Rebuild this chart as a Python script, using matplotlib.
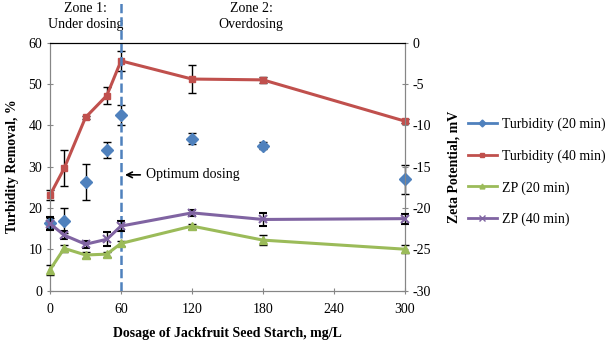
import matplotlib.pyplot as plt
from matplotlib.lines import Line2D

plt.rcParams['font.family'] = ['Liberation Serif', 'DejaVu Serif']
plt.rcParams['axes.unicode_minus'] = False

dose = [0, 12, 30, 48, 60, 120, 180, 300]

turb20 = [16.3, 16.9, 26.3, 34.1, 42.5, 36.8, 35.1, 26.9]
turb20_err = [1.2, 3.0, 4.3, 1.9, 2.4, 1.3, 0.8, 3.5]
turb40 = [23.1, 29.6, 41.9, 47.2, 55.6, 51.2, 51.0, 41.0]
turb40_err = [1.3, 4.3, 0.4, 2.1, 2.5, 3.3, 0.8, 0.5]

zp20 = [-27.5, -24.9, -25.7, -25.6, -24.3, -22.2, -23.9, -25.0]
zp20_err = [0.6, 0.4, 0.4, 0.3, 0.3, 0.3, 0.65, 0.5]
zp40 = [-21.9, -23.3, -24.4, -23.8, -22.2, -20.6, -21.4, -21.3]
zp40_err = [0.8, 0.5, 0.4, 0.85, 0.6, 0.4, 0.8, 0.6]

c_blue = '#4F81BD'
c_red = '#C0504D'
c_green = '#9BBB59'
c_purple = '#8064A2'
grey = '#868686'

fig = plt.figure(figsize=(6.1, 3.4), dpi=100)
ax = fig.add_axes([50 / 610, 1 - 290.5 / 340, 355 / 610, 247.8 / 340])
ax2 = ax.twinx()

ax.errorbar(dose, turb20, yerr=turb20_err, fmt='D', color=c_blue, ms=6,
            ecolor='black', elinewidth=1, capsize=3, clip_on=False, zorder=3)
ax.errorbar(dose, turb40, yerr=turb40_err, fmt='-s', color=c_red, ms=5, lw=2.2,
            ecolor='black', elinewidth=1, capsize=3, clip_on=False, zorder=3)
ax2.errorbar(dose, zp20, yerr=zp20_err, fmt='-^', color=c_green, ms=6, lw=2.2,
             ecolor='black', elinewidth=1, capsize=3, clip_on=False, zorder=3)
ax2.errorbar(dose, zp40, yerr=zp40_err, fmt='-x', color=c_purple, ms=6, mew=1.5, lw=2.2,
             ecolor='black', elinewidth=1, capsize=3, clip_on=False, zorder=3)

ax.set_xlim(0, 300)
ax.set_ylim(0, 60)
ax2.set_ylim(-30, 0)
ax.set_xticks([0, 60, 120, 180, 240, 300])
ax.set_yticks(range(0, 61, 10))
ax2.set_yticks(range(-30, 1, 5))

for a in (ax, ax2):
    for s in ('left', 'right', 'bottom'):
        a.spines[s].set_color(grey)
    a.spines['top'].set_color('black')
    a.tick_params(colors=grey, labelcolor='black', labelsize=10, length=4, direction='inout')
ax.tick_params(axis='x', pad=7)

ax.set_xlabel('Dosage of Jackfruit Seed Starch, mg/L', fontsize=10, fontweight='bold', labelpad=8)
ax.set_ylabel('Turbidity Removal, %', fontsize=10, fontweight='bold', labelpad=7)
ax2.set_ylabel('Zeta Potential, mV', fontsize=10, fontweight='bold', labelpad=12)

# optimum dosing line
ax.axvline(60, ymin=0, ymax=1.17, color=c_blue, ls='--', lw=1.8, clip_on=False, zorder=4)
ax.annotate('Optimum dosing', xy=(61, 28), xytext=(81, 28), fontsize=10, va='center',
            arrowprops=dict(arrowstyle='->', color='black', lw=1.2))
ax.text(30, 66.3, 'Zone 1:\nUnder dosing', ha='center', va='center', fontsize=10, linespacing=1.35)
ax.text(170, 66.3, 'Zone 2:\nOverdosing', ha='center', va='center', fontsize=10, linespacing=1.35)

handles = [
    Line2D([], [], color=c_blue, marker='D', ms=3.5, lw=2),
    Line2D([], [], color=c_red, marker='s', ms=3.5, lw=2),
    Line2D([], [], color=c_green, marker='^', ms=3.5, lw=2),
    Line2D([], [], color=c_purple, marker='x', ms=4, lw=2),
]
labels = ['Turbidity (20 min)', 'Turbidity (40 min)', 'ZP (20 min)', 'ZP (40 min)']
fig.legend(handles, labels, loc='center left', bbox_to_anchor=(462 / 610, 1 - 172 / 340),
           frameon=False, fontsize=10, handlelength=2.1, handletextpad=0.36,
           labelspacing=1.3, borderaxespad=0)

fig.savefig('out.png', dpi=100)
